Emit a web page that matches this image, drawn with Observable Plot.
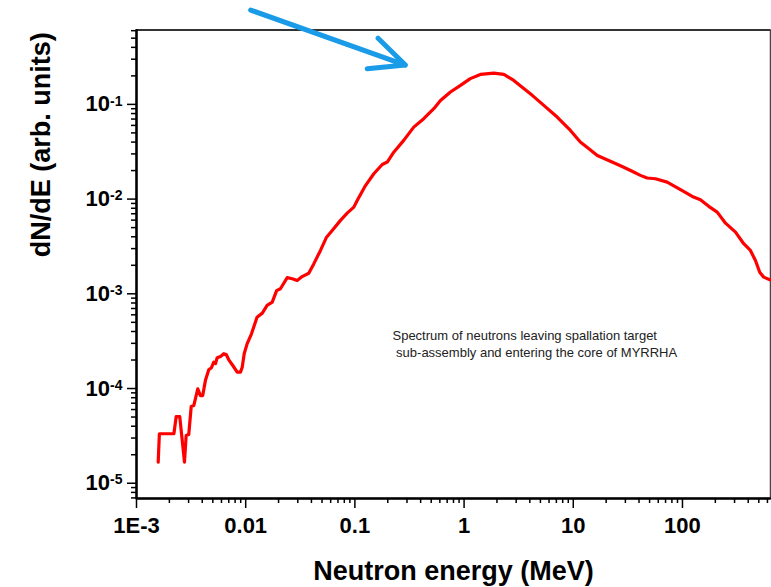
<!DOCTYPE html>
<html><head><meta charset="utf-8">
<script src="https://cdn.jsdelivr.net/npm/d3@7"></script>
<script src="https://cdn.jsdelivr.net/npm/@observablehq/plot@0.6"></script>
<style>
body{margin:0;background:#fff;}
</style></head><body><div id="chart"></div>
<script>
// Neutron energy (MeV)
const energy = [0.00158,0.00162,0.00220,0.00231,0.00249,0.00275,0.00285,0.00301,0.00317,0.00335,
0.00364,0.00385,0.00404,0.00428,0.00459,0.00486,0.00510,0.00529,0.00548,0.00588,
0.00630,0.00663,0.00700,0.00762,0.00836,0.00896,0.00929,0.00969,0.0103,0.0113,
0.0127,0.0142,0.0157,0.0175,0.0192,0.0208,0.0240,0.0267,0.0296,0.0329,
0.0378,0.0420,0.0484,0.0550,0.0620,0.0738,0.0850,0.0978,0.105,0.125,
0.149,0.178,0.198,0.227,0.280,0.346,0.427,0.528,0.608,0.750,
0.927,1.14,1.41,1.87,2.31,2.85,3.52,4.21,5.37,7.12,
9.42,11.6,13.9,16.6,21.1,28.0,34.6,41.2,47.5,56.6,
72.4,95.9,123,146,174,208,248,306,364,419,
466,510,555,630];
// dN/dE (arb. units)
const flux = [1.67e-5,3.33e-5,3.33e-5,5.06e-5,5.06e-5,1.67e-5,3.19e-5,3.27e-5,6.46e-5,6.62e-5,
9.93e-5,8.43e-5,8.43e-5,1.22e-4,1.58e-4,1.66e-4,1.90e-4,1.83e-4,2.11e-4,2.18e-4,
2.33e-4,2.29e-4,2.01e-4,1.75e-4,1.49e-4,1.49e-4,1.68e-4,2.33e-4,2.96e-4,3.78e-4,
5.66e-4,6.25e-4,7.54e-4,8.17e-4,1.08e-3,1.13e-3,1.48e-3,1.44e-3,1.38e-3,1.52e-3,
1.65e-3,2.07e-3,2.87e-3,3.96e-3,4.67e-3,5.96e-3,7.11e-3,8.22e-3,9.68e-3,1.39e-2,
1.85e-2,2.32e-2,2.46e-2,3.13e-2,4.17e-2,5.75e-2,7.06e-2,9.01e-2,0.110,0.135,
0.159,0.187,0.207,0.214,0.207,0.179,0.147,0.1245,0.0976,0.0735,
0.0531,0.040,0.0340,0.0289,0.0256,0.0221,0.0197,0.0178,0.0167,0.0164,
0.0151,0.01256,0.01067,9.85e-3,8.38e-3,7.28e-3,5.57e-3,4.48e-3,3.38e-3,2.87e-3,
2.25e-3,1.69e-3,1.50e-3,1.41e-3];

const xTicks = [0.001,0.01,0.1,1,10,100];
const xTickLabels = ["1E-3","0.01","0.1","1","10","100"];
const yTicks = [1e-5,1e-4,1e-3,1e-2,1e-1];
const yTickLabels = ["10^-5","10^-4","10^-3","10^-2","10^-1"];
const xDomain = [0.001, 640];
const yDomain = [6.9e-6, 0.61];
const xLabel = "Neutron energy (MeV)";
const yLabel = "dN/dE (arb. units)";
const noteText = "Spectrum of neutrons leaving spallation target\n sub-assembly and entering the core of MYRRHA";
const notePos = {x: 0.221, y: 3.03e-4};
const arrowSpec = {x1: 0.0111, y1: 0.99, x2: 0.29, y2: 0.26};

const data = energy.map((e, i) => ({e, f: flux[i]}));
const mult = [2,3,4,5,6,7,8,9];
const xMinor = [0.001,0.01,0.1,1,10,100].flatMap(d => mult.map(m => d*m)).filter(v => v <= xDomain[1]);
const yMinor = [1e-6,1e-5,1e-4,1e-3,1e-2,1e-1].flatMap(d => mult.map(m => d*m)).filter(v => v >= yDomain[0] && v <= yDomain[1]);
const xLab = new Map(xTicks.map((d,i)=>[d, xTickLabels[i]]));
const yLab = new Map(yTicks.map((d,i)=>[d, yTickLabels[i]]));
// axis lines as paths (left and bottom spines)
const leftSpine = [{e: xDomain[0], f: yDomain[0]}, {e: xDomain[0], f: yDomain[1]}];
const bottomSpine = [{e: xDomain[0], f: yDomain[0]}, {e: xDomain[1], f: yDomain[0]}];

const plot = Plot.plot({
  width: 771, height: 587,
  marginLeft: 136, marginRight: 1, marginTop: 29.5, marginBottom: 89,
  style: {fontFamily: "'Liberation Sans', Arial, sans-serif"},
  x: {type: "log", domain: xDomain},
  y: {type: "log", domain: yDomain},
  marks: [
    Plot.frame({stroke: "#444", strokeWidth: 1.5}),
    Plot.ruleY([yDomain[1]], {stroke: "#333", strokeWidth: 2}),
    Plot.ruleX([xDomain[0]], {stroke: "#000", strokeWidth: 2}),
    Plot.ruleY([yDomain[0]], {stroke: "#000", strokeWidth: 2}),
    Plot.line(leftSpine, {x: "e", y: "f", stroke: "#000", strokeWidth: 2}),
    Plot.line(bottomSpine, {x: "e", y: "f", stroke: "#000", strokeWidth: 2}),
    Plot.axisX({ticks: xMinor, tickSize: 5, tickFormat: () => "", strokeWidth: 1.5, label: null}),
    Plot.axisX({ticks: xTicks, tickSize: 10, tickPadding: 9, tickFormat: d => xLab.get(d), fontSize: 22, fontWeight: "bold", strokeWidth: 1.5, label: null}),
    Plot.axisY({ticks: yMinor, tickSize: 5, tickFormat: () => "", strokeWidth: 1.5, label: null}),
    Plot.axisY({ticks: yTicks, tickSize: 9, tickPadding: 5, tickFormat: d => yLab.get(d), fontSize: 22, fontWeight: "bold", strokeWidth: 1.5, label: null}),
    Plot.line(data, {x: "e", y: "f", stroke: "#ff0000", strokeWidth: 3.2, strokeLinejoin: "round"}),
    Plot.text([noteText], {x: () => notePos.x, y: () => notePos.y, text: d => d, textAnchor: "start", lineAnchor: "middle", fontSize: 13, lineHeight: 1.3, fill: "#222"}),
    Plot.arrow([arrowSpec], {x1: "x1", y1: "y1", x2: "x2", y2: "y2", stroke: "#1a9be8", strokeWidth: 5, headLength: 11.5, headAngle: 50}),
    Plot.text([xLabel], {frameAnchor: "bottom", text: d => d, dy: 73, lineAnchor: "middle", fontSize: 27, fontWeight: "bold", fill: "#000"}),
    Plot.text([yLabel], {frameAnchor: "left", text: d => d, dx: -95, dy: -7, rotate: -90, lineAnchor: "middle", fontSize: 27, fontWeight: "bold", fill: "#000"})
  ]
});

d3.select(plot).selectAll('g[aria-label="y-axis tick label"] text').each(function() {
  const m = this.textContent.match(/^10\^(.+)$/);
  if (m) {
    const s = d3.select(this);
    s.text("10");
    s.append("tspan").attr("dy", "-0.42em").attr("font-size", "14px").text(m[1]);
  }
});

document.getElementById("chart").appendChild(plot);
</script></body></html>
